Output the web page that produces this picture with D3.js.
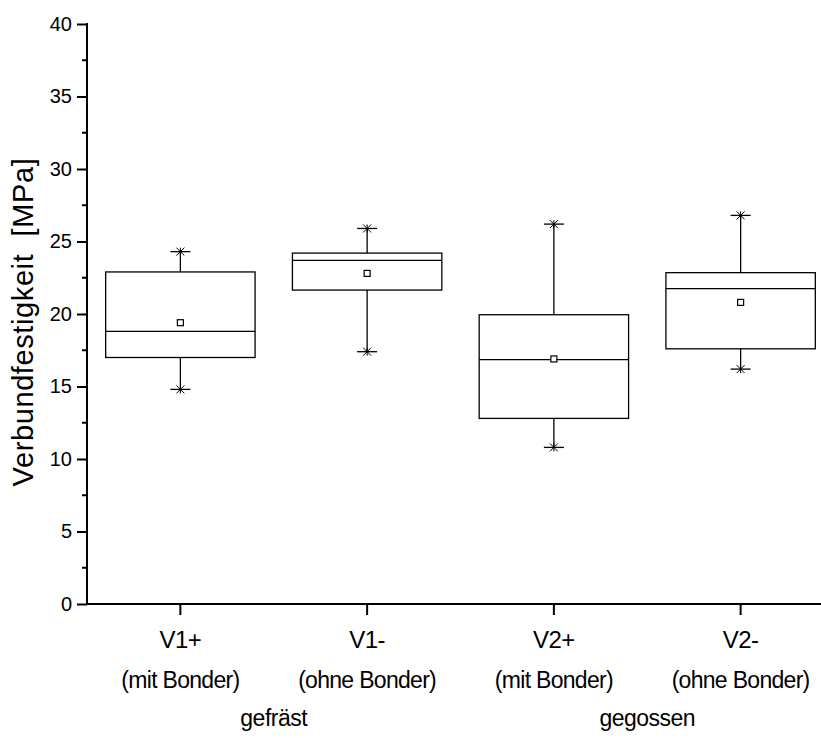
<!DOCTYPE html>
<html>
<head>
<meta charset="utf-8">
<script src="https://cdn.jsdelivr.net/npm/d3@7"></script>
<style>
  html, body { margin: 0; padding: 0; background: #fff; }
  svg { display: block; font-family: "Liberation Sans", Arial, sans-serif; }
</style>
</head>
<body>
<svg id="chart" width="821" height="738"></svg>
<script>
const categories = ["V1+", "V1-", "V2+", "V2-"];
const subLabels = ["(mit Bonder)", "(ohne Bonder)", "(mit Bonder)", "(ohne Bonder)"];
const groupLabels = ["gefräst", "gegossen"];
const whiskerLow = [14.8, 17.4, 10.8, 16.2];
const q1 = [17.0, 21.65, 12.8, 17.6];
const median = [18.8, 23.7, 16.85, 21.75];
const q3 = [22.9, 24.2, 19.95, 22.85];
const whiskerHigh = [24.3, 25.9, 26.2, 26.8];
const mean = [19.4, 22.8, 16.9, 20.8];
const yTicks = [0, 5, 10, 15, 20, 25, 30, 35, 40];
const yLabel = "Verbundfestigkeit  [MPa]";

const svg = d3.select("#chart");
const mLeft = 87, mRight = 834, mTop = 24, mBottom = 604;

const x = d3.scaleBand().domain(categories).range([mLeft, mRight]).paddingInner(0).paddingOuter(0);
const y = d3.scaleLinear().domain([0, 40]).range([mBottom, mTop]);
const boxW = x.bandwidth() * 0.8;
const cx = c => x(c) + x.bandwidth() / 2;

// Y axis
const yAxis = svg.append("g").attr("transform", `translate(${mLeft},0)`)
  .call(d3.axisLeft(y).tickValues(yTicks).tickSize(10).tickPadding(5).tickFormat(d3.format("d")));
yAxis.select(".domain").remove();
yAxis.selectAll(".tick line").attr("stroke", "#000").attr("stroke-width", 2);
yAxis.selectAll(".tick text").attr("font-size", 20).attr("fill", "#000")
  .attr("font-family", "'Liberation Sans', Arial, sans-serif");
// minor ticks
const minor = d3.range(2.5, 40, 5);
svg.append("g").selectAll("line").data(minor).join("line")
  .attr("x1", mLeft - 5).attr("x2", mLeft).attr("y1", d => y(d)).attr("y2", d => y(d))
  .attr("stroke", "#000").attr("stroke-width", 2);
svg.append("line").attr("x1", mLeft).attr("x2", mLeft).attr("y1", mTop - 1).attr("y2", mBottom + 1)
  .attr("stroke", "#000").attr("stroke-width", 2);

// X axis
const xAxis = svg.append("g").attr("transform", `translate(0,${mBottom})`)
  .call(d3.axisBottom(x).tickSize(11).tickFormat(""));
xAxis.select(".domain").remove();
xAxis.selectAll(".tick line").attr("stroke", "#000").attr("stroke-width", 2);
svg.append("line").attr("x1", mLeft - 1).attr("x2", mRight).attr("y1", mBottom).attr("y2", mBottom)
  .attr("stroke", "#000").attr("stroke-width", 2);

// X labels
svg.append("g").selectAll("text").data(categories).join("text")
  .attr("x", d => cx(d)).attr("y", 648).attr("text-anchor", "middle")
  .attr("font-size", 24).attr("letter-spacing", -0.5).text(d => d);
svg.append("g").selectAll("text").data(subLabels).join("text")
  .attr("x", (d, i) => cx(categories[i])).attr("y", 688).attr("text-anchor", "middle")
  .attr("font-size", 23).attr("letter-spacing", -0.7).text(d => d);
svg.append("g").selectAll("text").data(groupLabels).join("text")
  .attr("x", (d, i) => (cx(categories[2 * i]) + cx(categories[2 * i + 1])) / 2).attr("y", 726)
  .attr("text-anchor", "middle").attr("font-size", 23).attr("letter-spacing", -0.5).text(d => d);

// Y label
svg.append("text").attr("transform", "translate(33,322) rotate(-90)")
  .attr("text-anchor", "middle").attr("font-size", 29).attr("letter-spacing", 0.6).text(yLabel)
  .style("white-space", "pre");

// Boxes
const g = svg.append("g").attr("stroke", "#000").attr("fill", "none").attr("stroke-width", 1.3);
categories.forEach((c, i) => {
  const xc = cx(c);
  g.append("line").attr("x1", xc).attr("x2", xc).attr("y1", y(q3[i])).attr("y2", y(whiskerHigh[i]));
  g.append("line").attr("x1", xc).attr("x2", xc).attr("y1", y(q1[i])).attr("y2", y(whiskerLow[i]));
  g.append("rect").attr("x", xc - boxW / 2).attr("y", y(q3[i]))
    .attr("width", boxW).attr("height", y(q1[i]) - y(q3[i]));
  g.append("line").attr("x1", xc - boxW / 2).attr("x2", xc + boxW / 2)
    .attr("y1", y(median[i])).attr("y2", y(median[i]));
  [whiskerHigh[i], whiskerLow[i]].forEach(v => {
    const yy = y(v);
    g.append("line").attr("x1", xc - 10).attr("x2", xc + 10).attr("y1", yy).attr("y2", yy);
    g.append("line").attr("x1", xc - 4).attr("x2", xc + 4).attr("y1", yy - 4).attr("y2", yy + 4).attr("stroke-width", 1);
    g.append("line").attr("x1", xc - 4).attr("x2", xc + 4).attr("y1", yy + 4).attr("y2", yy - 4).attr("stroke-width", 1);
    g.append("line").attr("x1", xc).attr("x2", xc).attr("y1", yy - 4).attr("y2", yy + 4).attr("stroke-width", 1);
  });
  g.append("rect").attr("x", xc - 3).attr("y", y(mean[i]) - 3).attr("width", 6).attr("height", 6)
    .attr("fill", "#fff").attr("stroke-width", 1.2);
});
</script>
</body>
</html>
